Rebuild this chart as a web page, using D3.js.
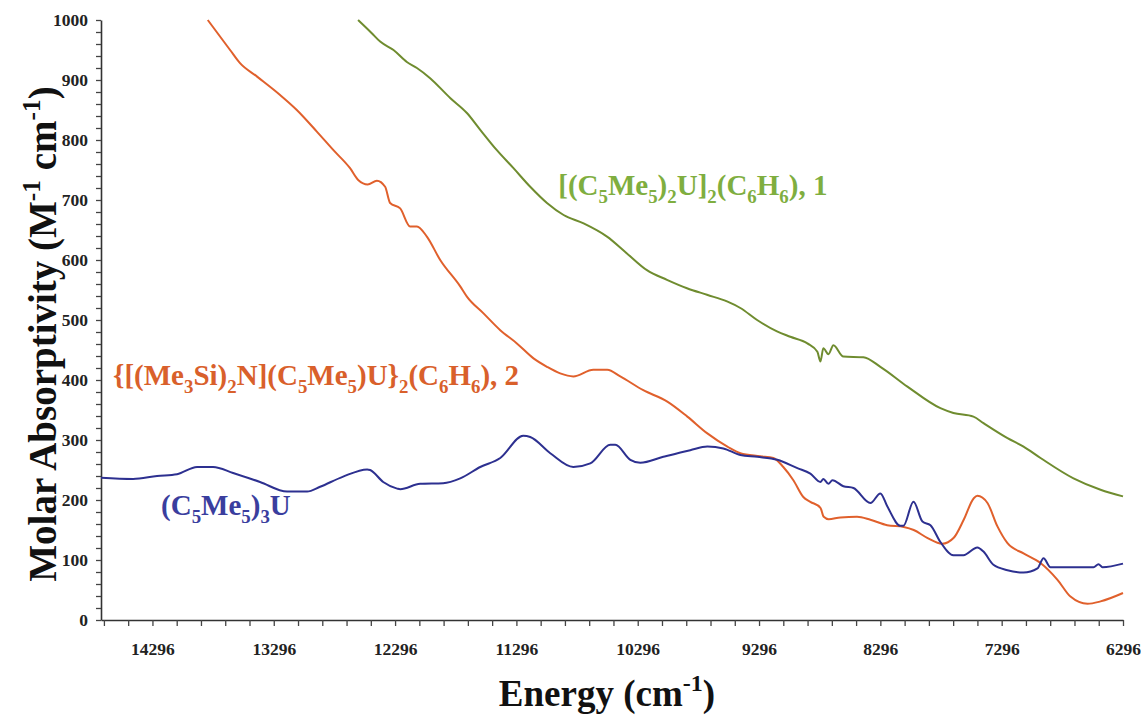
<!DOCTYPE html>
<html><head><meta charset="utf-8">
<script src="https://cdn.jsdelivr.net/npm/d3@7"></script>
<style>
body{margin:0;background:#fff}
svg{display:block}
text{font-family:"Liberation Serif","Times New Roman",serif;font-weight:bold}
</style>
</head><body>
<svg id="chart" width="1141" height="715"></svg>
<script>
// ---------- data ----------
const xTickValues = d3.range(6296, 14697, 200);
const xTickLabels = [14296, 13296, 12296, 11296, 10296, 9296, 8296, 7296, 6296];
const yTickValues = d3.range(0, 1001, 20);
const yTickLabels = [0, 100, 200, 300, 400, 500, 600, 700, 800, 900, 1000];

// [(C5Me5)2U]2(C6H6), 1  -- [energy cm-1, molar absorptivity]
const series1 = [[12601,1000],[12488,978],[12419,964],[12309,950],[12199,930],[12116,920],[12007,903],
  [11842,870],[11704,845],[11594,817],[11457,783],[11320,753],[11182,722],[11044,695],[10907,675],
  [10742,661],[10549,639],[10385,611],[10220,583],[10055,567],[9890,553],[9725,542],[9560,531],
  [9450,520],[9312,500],[9148,481],[9038,472],[8898,461],[8815,447],[8790,431],[8766,453],[8724,443],
  [8683,458],[8601,439],[8436,438],[8296,422],[8073,389],[7801,353],[7694,345],[7529,339],[7446,328],
  [7248,303],[7116,289],[6976,270],[6704,236],[6481,217],[6296,206]];

// {[(Me3Si)2N](C5Me5)U}2(C6H6), 2
const series2 = [[13840,1000],[13656,950],[13574,928],[13436,906],[13244,875],[13106,850],[12941,814],
  [12804,783],[12667,753],[12598,733],[12522,726],[12446,732],[12378,722],[12337,695],[12254,686],
  [12172,656],[12116,656],[12034,639],[11924,600],[11759,556],[11704,539],[11567,511],[11429,483],
  [11292,461],[11155,436],[11044,422],[10935,411],[10827,406],[10662,417],[10547,417],[10440,406],
  [10250,383],[10052,364],[9887,339],[9722,311],[9557,289],[9450,278],[9285,273],[9178,270],
  [9096,255],[9013,233],[8931,205],[8873,197],[8790,187],[8763,172],[8722,168],[8625,171],
  [8488,172],[8378,167],[8240,158],[8103,155],[8021,150],[7910,137],[7787,127],[7691,137],
  [7609,167],[7526,203],[7496,207],[7413,195],[7331,156],[7248,128],[7116,111],[6976,95],
  [6836,67],[6729,39],[6588,27],[6481,31],[6296,45]];

// (C5Me5)3U
const series3 = [[14720,237],[14456,235],[14258,240],[14093,243],[13928,255],[13796,255],[13631,245],
  [13409,230],[13186,214],[13021,214],[12914,222],[12724,239],[12526,251],[12502,250],[12394,230],
  [12279,219],[12254,218],[12089,227],[11900,228],[11759,236],[11594,255],[11429,270],[11240,307],
  [11182,305],[11017,278],[10827,255],[10687,261],[10522,292],[10481,292],[10357,267],[10275,262],
  [10085,272],[9863,283],[9722,289],[9590,286],[9450,275],[9310,272],[9145,267],[8980,253],
  [8873,244],[8790,230],[8766,235],[8724,227],[8691,233],[8601,223],[8518,220],[8378,195],
  [8296,211],[8238,189],[8131,157],[8106,157],[8023,197],[7949,164],[7883,158],[7801,130],
  [7694,108],[7611,108],[7496,121],[7446,114],[7364,92],[7248,83],[7116,79],[7001,86],[6951,103],
  [6894,88],[6836,88],[6539,88],[6498,93],[6465,88],[6296,94]];

const seriesLabels = [
  "[(C_5Me_5)_2U]_2(C_6H_6), 1",
  "{[(Me_3Si)_2N](C_5Me_5)U}_2(C_6H_6), 2",
  "(C_5Me_5)_3U"
];
const xTitle = "Energy (cm^-1)";
const yTitle = "Molar Absorptivity (M^-1 cm^-1)";

// ---------- layout / style ----------
const svg = d3.select("#chart");
const x = d3.scaleLinear().domain([14720, 6296]).range([101, 1123]);
const y = d3.scaleLinear().domain([0, 1000]).range([620, 20]);

const styles = [
  {data: series1, line: "#6f8c2f", text: "#7fae3f", at: [10951, 708]},
  {data: series2, line: "#e0602c", text: "#d9602b", at: [14621, 392]},
  {data: series3, line: "#2d3090", text: "#3a3e9e", at: [14225, 175]}
];

function rich(sel, str, fs) {
  const tokens = str.split(/(_\d|\^-?\d+)/).filter(s => s !== "");
  let shift = 0;
  tokens.forEach(tok => {
    let kind = null, txt = tok;
    if (tok[0] === "_") { kind = "sub"; txt = tok.slice(1); }
    else if (tok[0] === "^") { kind = "sup"; txt = tok.slice(1); }
    const target = kind === "sub" ? fs * 0.28 : kind === "sup" ? -fs * 0.4 : 0;
    sel.append("tspan").attr("dy", target - shift)
      .attr("font-size", kind ? fs * 0.65 : fs).text(txt);
    shift = target;
  });
}

// axes
const xAxis = d3.axisBottom(x).tickValues(xTickValues).tickSize(6).tickSizeOuter(0).tickPadding(17)
  .tickFormat(d => xTickLabels.includes(d) ? String(d) : "");
const gx = svg.append("g").attr("transform", `translate(0,${y(0)})`).call(xAxis);
const yAxis = d3.axisLeft(y).tickValues(yTickValues).tickSize(5).tickSizeOuter(0).tickPadding(8)
  .tickFormat(d => yTickLabels.includes(d) ? String(d) : "");
const gy = svg.append("g").attr("transform", `translate(${x.range()[0]},0)`).call(yAxis);
[gx, gy].forEach(g => {
  g.attr("font-family", null).attr("font-size", null);
  g.select(".domain").attr("stroke", "#333").attr("stroke-width", 1.6);
  g.selectAll(".tick line").attr("stroke", "#444").attr("stroke-width", 1.3);
  g.selectAll(".tick text").attr("fill", "#222").style("font-size", "17.5px")
    .style("font-family", '"Liberation Serif","Times New Roman",serif').style("font-weight", "bold");
});

// lines
const line = d3.line().x(d => x(d[0])).y(d => y(d[1])).curve(d3.curveMonotoneX);
styles.forEach(s => {
  svg.append("path").datum(s.data).attr("d", line)
    .attr("fill", "none").attr("stroke", s.line).attr("stroke-width", 2)
    .attr("stroke-linejoin", "round");
});

// series labels
styles.forEach((s, i) => {
  const t = svg.append("text").attr("x", x(s.at[0])).attr("y", y(s.at[1]))
    .attr("fill", s.text);
  rich(t, seriesLabels[i], 29);
});

// axis titles
const xt = svg.append("text").attr("x", 607).attr("y", 706).attr("text-anchor", "middle").attr("fill", "#111");
rich(xt, xTitle, 37);
const yt = svg.append("text").attr("transform", "translate(56,334) rotate(-90)")
  .attr("text-anchor", "middle").attr("fill", "#111");
rich(yt, yTitle, 39);
</script>
</body></html>
